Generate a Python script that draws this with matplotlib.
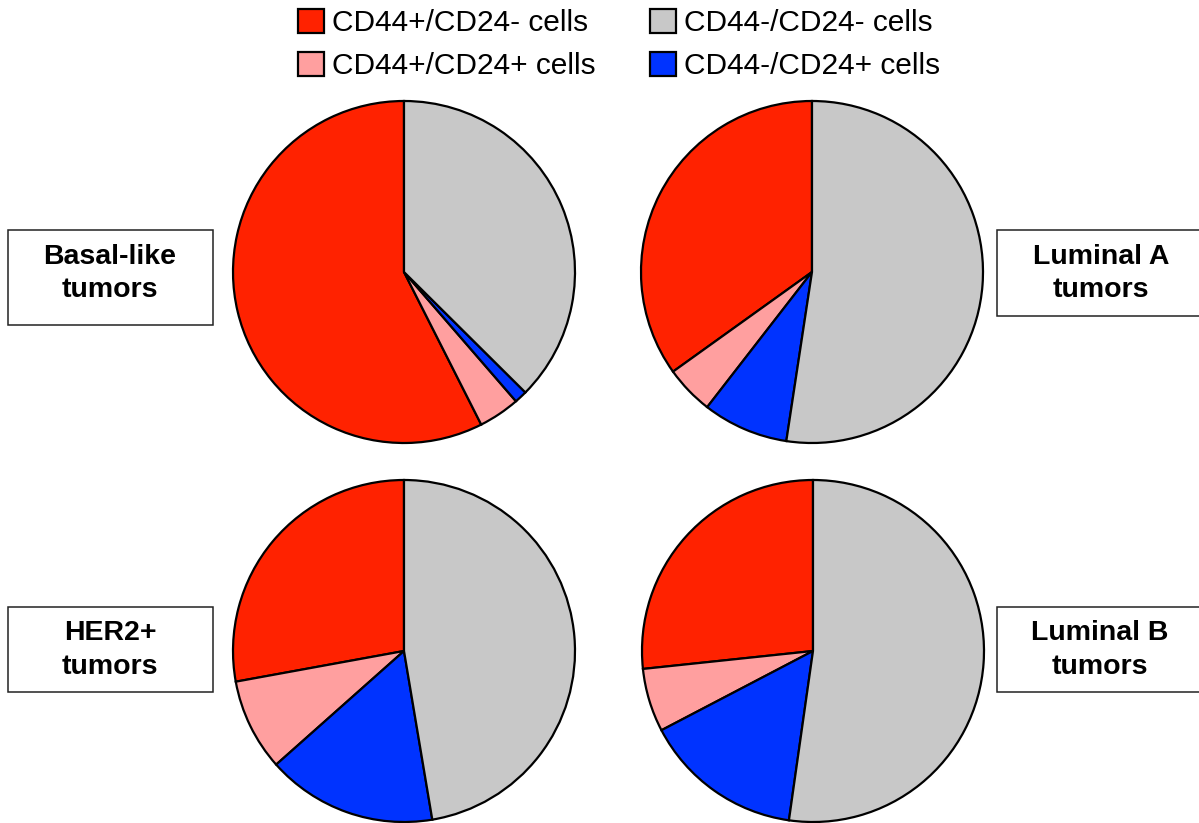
import matplotlib

matplotlib.use("Agg")
import matplotlib.pyplot as plt
from matplotlib.patches import Rectangle


FIG_W = 1199
FIG_H = 823

# cell populations, drawn counterclockwise from 12 o'clock
POPULATIONS = [
    "CD44+/CD24- cells",
    "CD44+/CD24+ cells",
    "CD44-/CD24+ cells",
    "CD44-/CD24- cells",
]
COLORS = ["#FF2200", "#FF9F9F", "#0033FF", "#C8C8C8"]

# percentage of cells per tumor subtype (same order as POPULATIONS)
BASAL_LIKE = [57.4, 3.9, 1.2, 37.4]
LUMINAL_A = [34.9, 4.6, 8.1, 52.4]
HER2_POS = [27.9, 8.7, 16.1, 47.4]
LUMINAL_B = [26.7, 6.0, 15.1, 52.3]

SUBTYPE_LABELS = ["Basal-like\ntumors", "Luminal A\ntumors", "HER2+\ntumors", "Luminal B\ntumors"]

# layout in pixels (y measured from the top)
PIE_RADIUS = 171
PANELS = [
    # values, pie centre, label box (x0, y0, x1, y1), label centre
    (BASAL_LIKE, (404, 272), (8, 230, 213, 325), (110, 273)),
    (LUMINAL_A, (812, 272), (997, 230, 1215, 316), (1101, 273)),
    (HER2_POS, (404, 651), (8, 607, 213, 692), (110, 650)),
    (LUMINAL_B, (813, 651), (997, 607, 1215, 692), (1100, 650)),
]


def flip(y):
    return FIG_H - y


def main():
    plt.rcParams["font.family"] = ["Liberation Sans", "DejaVu Sans"]

    fig = plt.figure(figsize=(FIG_W / 100, FIG_H / 100), dpi=100)
    ax = fig.add_axes([0, 0, 1, 1])

    wedges_first = None
    for (values, (cx, cy), box, (tx, ty)), label in zip(PANELS, SUBTYPE_LABELS):
        wedges, _ = ax.pie(
            values,
            colors=COLORS,
            startangle=90,
            counterclock=True,
            center=(cx, flip(cy)),
            radius=PIE_RADIUS,
            wedgeprops=dict(edgecolor="black", linewidth=1.6),
        )
        if wedges_first is None:
            wedges_first = wedges

        x0, y0, x1, y1 = box
        ax.add_patch(
            Rectangle(
                (x0, flip(y1)), x1 - x0, y1 - y0,
                facecolor="white", edgecolor="#222222", linewidth=1.1, clip_on=False,
            )
        )
        ax.text(tx, flip(ty), label, ha="center", va="center",
                fontsize=20.5, fontweight="bold", linespacing=1.35)

    ax.set_xlim(0, FIG_W)
    ax.set_ylim(0, FIG_H)
    ax.set_aspect("equal")
    ax.axis("off")

    # legend fills column first: red, pink | grey, blue
    order = [0, 1, 3, 2]
    ax.legend(
        [wedges_first[i] for i in order],
        [POPULATIONS[i] for i in order],
        ncol=2,
        loc="upper left",
        bbox_to_anchor=(298 / FIG_W, 1 - 9 / FIG_H),
        bbox_transform=fig.transFigure,
        frameon=False,
        fontsize=21.5,
        borderpad=0,
        borderaxespad=0,
        handlelength=0.88,
        handleheight=0.84,
        handletextpad=0.27,
        columnspacing=1.8,
        labelspacing=0.5,
    )

    fig.savefig("out.png", dpi=100)
    plt.close(fig)


if __name__ == "__main__":
    main()
